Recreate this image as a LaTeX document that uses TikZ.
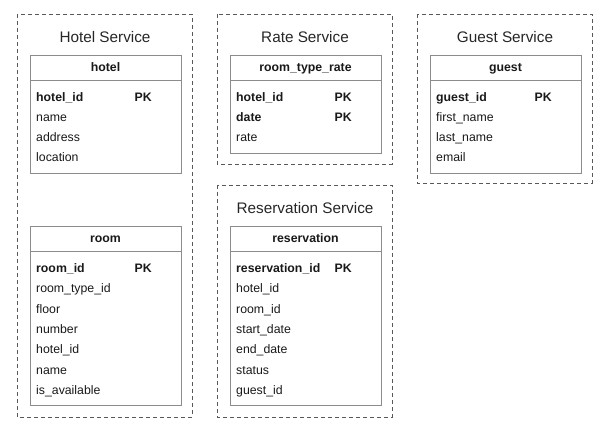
\documentclass[tikz,border=0pt]{standalone}
\usepackage{fontspec}
\setmainfont{Liberation Sans}
\usepackage{tikz}
\tikzset{
    servicebox/.style={draw=black!65, line width=0.9pt, dash pattern=on 4pt off 3pt},
    tablebox/.style={draw=black!45, line width=0.9pt},
    servicetitle/.style={anchor=base, inner sep=0pt, text=black!85, font=\fontsize{15.3}{18}\selectfont},
    tablehead/.style={anchor=base, inner sep=0pt, text=black!90, font=\fontsize{12.3}{14}\selectfont\bfseries},
    field/.style={anchor=base west, inner sep=0pt, text=black!90, font=\fontsize{12.3}{14}\selectfont},
    keyfield/.style={field, font=\fontsize{12.3}{14}\selectfont\bfseries},
    pkmark/.style={anchor=base east, inner sep=0pt, text=black!90, font=\fontsize{12.3}{14}\selectfont\bfseries}
}
\begin{document}
\begin{tikzpicture}[x=1pt, y=-1pt]
    \useasboundingbox (0,0) rectangle (614,433);

    % Hotel Service
    \coordinate (HS1) at (17,14);
    \coordinate (HS2) at (192,417);
    \draw[servicebox] (HS1) rectangle (HS2);
    \path (105,42.2) node[servicetitle] (hotelservice) {Hotel Service};

    \coordinate (H1) at (30,55);
    \coordinate (H2) at (181,173);
    \coordinate (H3) at (30,80);
    \coordinate (H4) at (181,80);
    \draw[tablebox] (H1) rectangle (H2);
    \draw[tablebox] (H3) -- (H4);
    \path (105.5,72) node[tablehead] (hotel) {hotel};
    \path (36,102) node[keyfield] (hotelid) {hotel\_id};
    \path (152,102) node[pkmark] (hotelpk) {PK};
    \path (36,122) node[field] (hotelname) {name};
    \path (36,142) node[field] (hoteladdress) {address};
    \path (36,162) node[field] (hotellocation) {location};

    \coordinate (R1) at (30,226);
    \coordinate (R2) at (181,405);
    \coordinate (R3) at (30,251);
    \coordinate (R4) at (181,251);
    \draw[tablebox] (R1) rectangle (R2);
    \draw[tablebox] (R3) -- (R4);
    \path (105.5,243) node[tablehead] (room) {room};
    \path (36,272.6) node[keyfield] (roomid) {room\_id};
    \path (152,272.6) node[pkmark] (roompk) {PK};
    \path (36,292.9) node[field] (roomtype) {room\_type\_id};
    \path (36,313.2) node[field] (roomfloor) {floor};
    \path (36,333.5) node[field] (roomnumber) {number};
    \path (36,353.8) node[field] (roomhotel) {hotel\_id};
    \path (36,374.1) node[field] (roomname) {name};
    \path (36,394.4) node[field] (roomavailable) {is\_available};

    % Rate Service
    \coordinate (RS1) at (217,14);
    \coordinate (RS2) at (392,164);
    \draw[servicebox] (RS1) rectangle (RS2);
    \path (305,42.2) node[servicetitle] (rateservice) {Rate Service};

    \coordinate (T1) at (230,55);
    \coordinate (T2) at (381,153);
    \coordinate (T3) at (230,80);
    \coordinate (T4) at (381,80);
    \draw[tablebox] (T1) rectangle (T2);
    \draw[tablebox] (T3) -- (T4);
    \path (305.5,72) node[tablehead] (rate) {room\_type\_rate};
    \path (236,102) node[keyfield] (ratehotel) {hotel\_id};
    \path (352,102) node[pkmark] (ratehotelpk) {PK};
    \path (236,122) node[keyfield] (ratedate) {date};
    \path (352,122) node[pkmark] (ratedatepk) {PK};
    \path (236,142) node[field] (ratevalue) {rate};

    % Reservation Service
    \coordinate (VS1) at (217,185);
    \coordinate (VS2) at (392,417);
    \draw[servicebox] (VS1) rectangle (VS2);
    \path (305,213.8) node[servicetitle] (reservationservice) {Reservation Service};

    \coordinate (V1) at (230,226);
    \coordinate (V2) at (381,405);
    \coordinate (V3) at (230,251);
    \coordinate (V4) at (381,251);
    \draw[tablebox] (V1) rectangle (V2);
    \draw[tablebox] (V3) -- (V4);
    \path (305.5,243) node[tablehead] (reservation) {reservation};
    \path (236,272.6) node[keyfield] (reservationid) {reservation\_id};
    \path (352,272.6) node[pkmark] (reservationpk) {PK};
    \path (236,292.9) node[field] (reservationhotel) {hotel\_id};
    \path (236,313.2) node[field] (reservationroom) {room\_id};
    \path (236,333.5) node[field] (reservationstart) {start\_date};
    \path (236,353.8) node[field] (reservationend) {end\_date};
    \path (236,374.1) node[field] (reservationstatus) {status};
    \path (236,394.4) node[field] (reservationguest) {guest\_id};

    % Guest Service
    \coordinate (GS1) at (417,14);
    \coordinate (GS2) at (592,183);
    \draw[servicebox] (GS1) rectangle (GS2);
    \path (505,42.2) node[servicetitle] (guestservice) {Guest Service};

    \coordinate (G1) at (430,55);
    \coordinate (G2) at (581,173);
    \coordinate (G3) at (430,80);
    \coordinate (G4) at (581,80);
    \draw[tablebox] (G1) rectangle (G2);
    \draw[tablebox] (G3) -- (G4);
    \path (505.5,72) node[tablehead] (guest) {guest};
    \path (436,102) node[keyfield] (guestid) {guest\_id};
    \path (552,102) node[pkmark] (guestpk) {PK};
    \path (436,122) node[field] (guestfirst) {first\_name};
    \path (436,142) node[field] (guestlast) {last\_name};
    \path (436,162) node[field] (guestemail) {email};

\end{tikzpicture}
\end{document}
